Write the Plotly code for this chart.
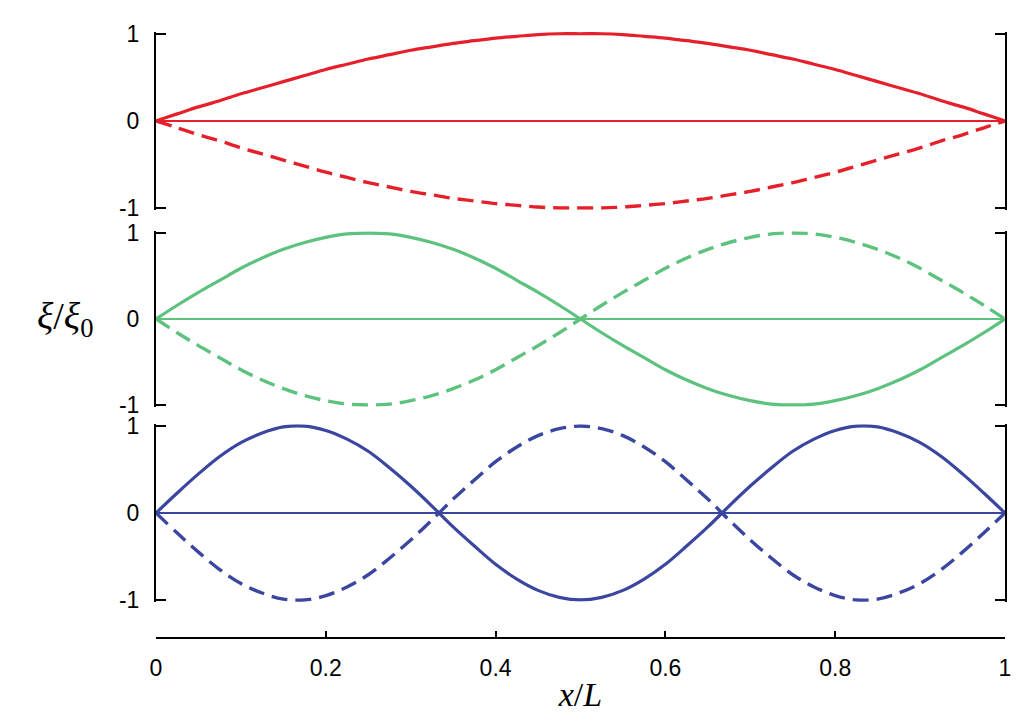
import plotly.graph_objects as go

# positions along the string, x/L
x_pos = [0, 0.025, 0.05, 0.075, 0.1, 0.125, 0.15, 0.175, 0.2, 0.225, 0.25,
         0.275, 0.3, 0.325, 0.35, 0.375, 0.4, 0.425, 0.45, 0.475, 0.5,
         0.525, 0.55, 0.575, 0.6, 0.625, 0.65, 0.675, 0.7, 0.725, 0.75,
         0.775, 0.8, 0.825, 0.85, 0.875, 0.9, 0.925, 0.95, 0.975, 1]

# displacement (solid = one extreme, dashed = the other)
mode1_solid = [0, 0.08, 0.16, 0.23, 0.31, 0.38, 0.45, 0.52, 0.59, 0.65, 0.71,
               0.76, 0.81, 0.85, 0.89, 0.92, 0.95, 0.97, 0.99, 1.0, 1.0,
               1.0, 0.99, 0.97, 0.95, 0.92, 0.89, 0.85, 0.81, 0.76, 0.71,
               0.65, 0.59, 0.52, 0.45, 0.38, 0.31, 0.23, 0.16, 0.08, 0]
mode1_dash = [0, -0.08, -0.16, -0.23, -0.31, -0.38, -0.45, -0.52, -0.59, -0.65, -0.71,
              -0.76, -0.81, -0.85, -0.89, -0.92, -0.95, -0.97, -0.99, -1.0, -1.0,
              -1.0, -0.99, -0.97, -0.95, -0.92, -0.89, -0.85, -0.81, -0.76, -0.71,
              -0.65, -0.59, -0.52, -0.45, -0.38, -0.31, -0.23, -0.16, -0.08, 0]

mode2_solid = [0, 0.16, 0.31, 0.45, 0.59, 0.71, 0.81, 0.89, 0.95, 0.99, 1.0,
               0.99, 0.95, 0.89, 0.81, 0.71, 0.59, 0.45, 0.31, 0.16, 0,
               -0.16, -0.31, -0.45, -0.59, -0.71, -0.81, -0.89, -0.95, -0.99, -1.0,
               -0.99, -0.95, -0.89, -0.81, -0.71, -0.59, -0.45, -0.31, -0.16, 0]
mode2_dash = [0, -0.16, -0.31, -0.45, -0.59, -0.71, -0.81, -0.89, -0.95, -0.99, -1.0,
              -0.99, -0.95, -0.89, -0.81, -0.71, -0.59, -0.45, -0.31, -0.16, 0,
              0.16, 0.31, 0.45, 0.59, 0.71, 0.81, 0.89, 0.95, 0.99, 1.0,
              0.99, 0.95, 0.89, 0.81, 0.71, 0.59, 0.45, 0.31, 0.16, 0]

mode3_solid = [0, 0.23, 0.45, 0.65, 0.81, 0.92, 0.99, 1.0, 0.95, 0.85, 0.71,
               0.52, 0.31, 0.08, -0.16, -0.38, -0.59, -0.76, -0.89, -0.97, -1.0,
               -0.97, -0.89, -0.76, -0.59, -0.38, -0.16, 0.08, 0.31, 0.52, 0.71,
               0.85, 0.95, 1.0, 0.99, 0.92, 0.81, 0.65, 0.45, 0.23, 0]
mode3_dash = [0, -0.23, -0.45, -0.65, -0.81, -0.92, -0.99, -1.0, -0.95, -0.85, -0.71,
              -0.52, -0.31, -0.08, 0.16, 0.38, 0.59, 0.76, 0.89, 0.97, 1.0,
              0.97, 0.89, 0.76, 0.59, 0.38, 0.16, -0.08, -0.31, -0.52, -0.71,
              -0.85, -0.95, -1.0, -0.99, -0.92, -0.81, -0.65, -0.45, -0.23, 0]

x_ticks = [0, 0.2, 0.4, 0.6, 0.8, 1]
x_ticktext = ["0", "0.2", "0.4", "0.6", "0.8", "1"]
y_ticks = [-1, 0, 1]
y_ticktext = ["-1", "0", "1"]

red = "#e6202a"
green = "#5ec27f"
blue = "#3a46a0"

panels = [
    ("y", mode1_solid, mode1_dash, red, [0.7068, 1.0]),
    ("y2", mode2_solid, mode2_dash, green, [0.3817, 0.6711]),
    ("y3", mode3_solid, mode3_dash, blue, [0.0599, 0.3526]),
]

fig = go.Figure()

tick_font = dict(family="Liberation Sans, Arial, sans-serif", size=23, color="black")
serif = "Liberation Serif, Times New Roman, serif"

for yname, solid, dash, color, dom in panels:
    fig.add_trace(go.Scatter(
        x=x_pos, y=solid, yaxis=yname, mode="lines",
        line=dict(color=color, width=3.2, shape="spline"),
        showlegend=False, hoverinfo="skip"
    ))
    fig.add_trace(go.Scatter(
        x=x_pos, y=dash, yaxis=yname, mode="lines",
        line=dict(color=color, width=3.4, shape="spline", dash="16px,8px"),
        showlegend=False, hoverinfo="skip"
    ))
    axis_key = "yaxis" if yname == "y" else "yaxis" + yname[1:]
    fig.layout[axis_key] = dict(
        domain=dom,
        anchor="x",
        range=[-1.02, 1.02],
        tickmode="array",
        tickvals=y_ticks,
        ticktext=y_ticktext,
        ticks="",
        ticklabelstandoff=10,
        minor=dict(tickmode="array", tickvals=[-1, 1], ticks="inside",
                   ticklen=10, tickwidth=2, tickcolor="black"),
        showline=True,
        linecolor="black",
        linewidth=2,
        mirror="ticks",
        showgrid=False,
        zeroline=True,
        zerolinecolor=color,
        zerolinewidth=1.5,
        tickfont=tick_font,
        fixedrange=True,
    )

fig.update_layout(
    xaxis=dict(
        domain=[0, 1],
        anchor="free",
        position=0,
        range=[0, 1],
        tickmode="array",
        tickvals=x_ticks,
        ticktext=x_ticktext,
        ticks="",
        ticklabelstandoff=9,
        minor=dict(tickmode="array", tickvals=x_ticks[1:-1], ticks="inside",
                   ticklen=6, tickwidth=1.5, tickcolor="black"),
        showline=True,
        linecolor="black",
        linewidth=2,
        showgrid=False,
        zeroline=False,
        tickfont=tick_font,
        fixedrange=True,
        title=dict(text="<i>x</i>/<i>L</i>", standoff=2,
                   font=dict(family=serif, size=34, color="black")),
    ),
    annotations=[dict(
        text="<i>ξ</i>/<i>ξ</i><sub>0</sub>",
        xref="paper", yref="y2", x=-0.107, y=0,
        xanchor="center", yanchor="middle", showarrow=False,
        font=dict(family=serif, size=38, color="black"),
    )],
    width=1028,
    height=725,
    margin=dict(l=156, r=23, t=32, b=87),
    plot_bgcolor="white",
    paper_bgcolor="white",
)

# page body margin would push the figure off the window
fig.write_html("out.html", config={"displayModeBar": False},
               post_script="document.body.style.margin='0';")
